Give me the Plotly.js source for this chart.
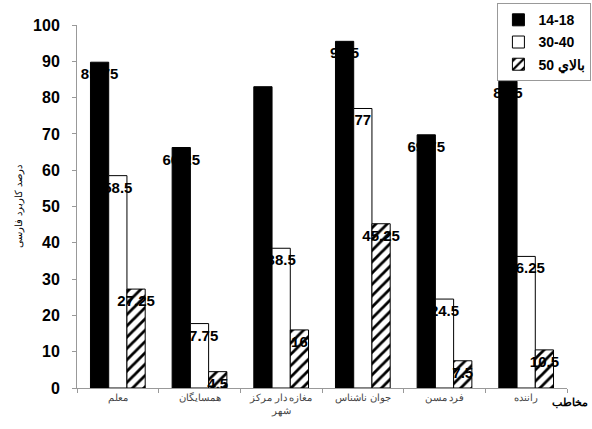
<!DOCTYPE html>
<html>
<head>
<meta charset="utf-8">
<script src="https://cdn.plot.ly/plotly-3.0.1.min.js"></script>
<style>html,body{margin:0;padding:0;background:#fff;}#chart{width:592px;height:429px;}</style>
</head>
<body>
<div id="chart"></div>
<script>
const categories = ["معلم", "همسايگان", "مغازه دار مركز<br>شهر", "جوان ناشناس", "فرد مسن", "راننده"];
const seriesNames = ["14-18", "30-40", "بالاي 50"];
const values1418 = [89.75, 66.25, 83, 95.5, 69.75, 84.5];
const values3040 = [58.5, 17.75, 38.5, 77, 24.5, 36.25];
const values50 = [27.25, 4.5, 16, 45.25, 7.5, 10.5];
const yTicks = [0, 10, 20, 30, 40, 50, 60, 70, 80, 90, 100];

const labelFont = {family: "Liberation Sans, Arial, sans-serif", size: 15, color: "#000", weight: "bold"};
function barTrace(name, vals, marker) {
  return {
    type: "bar", name: name, x: categories, y: vals,
    text: vals.map(String), textposition: "inside", insidetextanchor: "end",
    constraintext: "none", textangle: 0, cliponaxis: false,
    insidetextfont: labelFont, textfont: labelFont,
    marker: marker, legendgroup: name, hoverinfo: "skip"
  };
}
const traces = [
  barTrace(seriesNames[0], values1418, {color: "#000", line: {color: "#000", width: 1}}),
  barTrace(seriesNames[1], values3040, {color: "#fff", line: {color: "#000", width: 1}}),
  barTrace(seriesNames[2], values50, {color: "#fff", line: {color: "#000", width: 1},
    pattern: {shape: "/", fgcolor: "#000", bgcolor: "#fff", size: 8, solidity: 0.35}})
];
const layout = {
  width: 592, height: 429,
  margin: {l: 77, r: 25, t: 25, b: 41, autoexpand: false},
  paper_bgcolor: "#fff", plot_bgcolor: "#fff",
  barmode: "group", bargap: 0.33, bargroupgap: 0,
  font: {family: "Liberation Sans, Arial, sans-serif", color: "#000"},
  showlegend: true,
  legend: {x: 0.858, xanchor: "left", y: 1.06, yanchor: "top",
    bordercolor: "#999", borderwidth: 1, bgcolor: "#fff",
    font: {size: 14, weight: "bold", color: "#000"},
    traceorder: "grouped", tracegroupgap: 1},
  xaxis: {
    type: "category", showline: true, linecolor: "#999", linewidth: 1,
    ticks: "outside", tickson: "boundaries", ticklen: 4, tickcolor: "#999",
    tickfont: {size: 10, color: "#444"}, showgrid: false, zeroline: false,
    automargin: false
  },
  yaxis: {
    range: [0, 100], tickvals: yTicks, showline: true, linecolor: "#999", linewidth: 1,
    ticks: "outside", ticklen: 4, tickcolor: "#999", ticklabelstandoff: 9,
    tickfont: {size: 16, weight: "bold", color: "#000"}, showgrid: false, zeroline: false,
    title: {text: "درصد کاربرد فارسی", font: {size: 10, color: "#000"}, standoff: 8},
    automargin: false
  },
  annotations: [{
    text: "مخاطب", xref: "paper", yref: "paper", x: 1.047, y: -0.04,
    xanchor: "right", yanchor: "middle", showarrow: false,
    font: {size: 11, weight: "bold", color: "#000"}
  }]
};
Plotly.newPlot("chart", traces, layout, {staticPlot: true, displayModeBar: false});
</script>
</body>
</html>
